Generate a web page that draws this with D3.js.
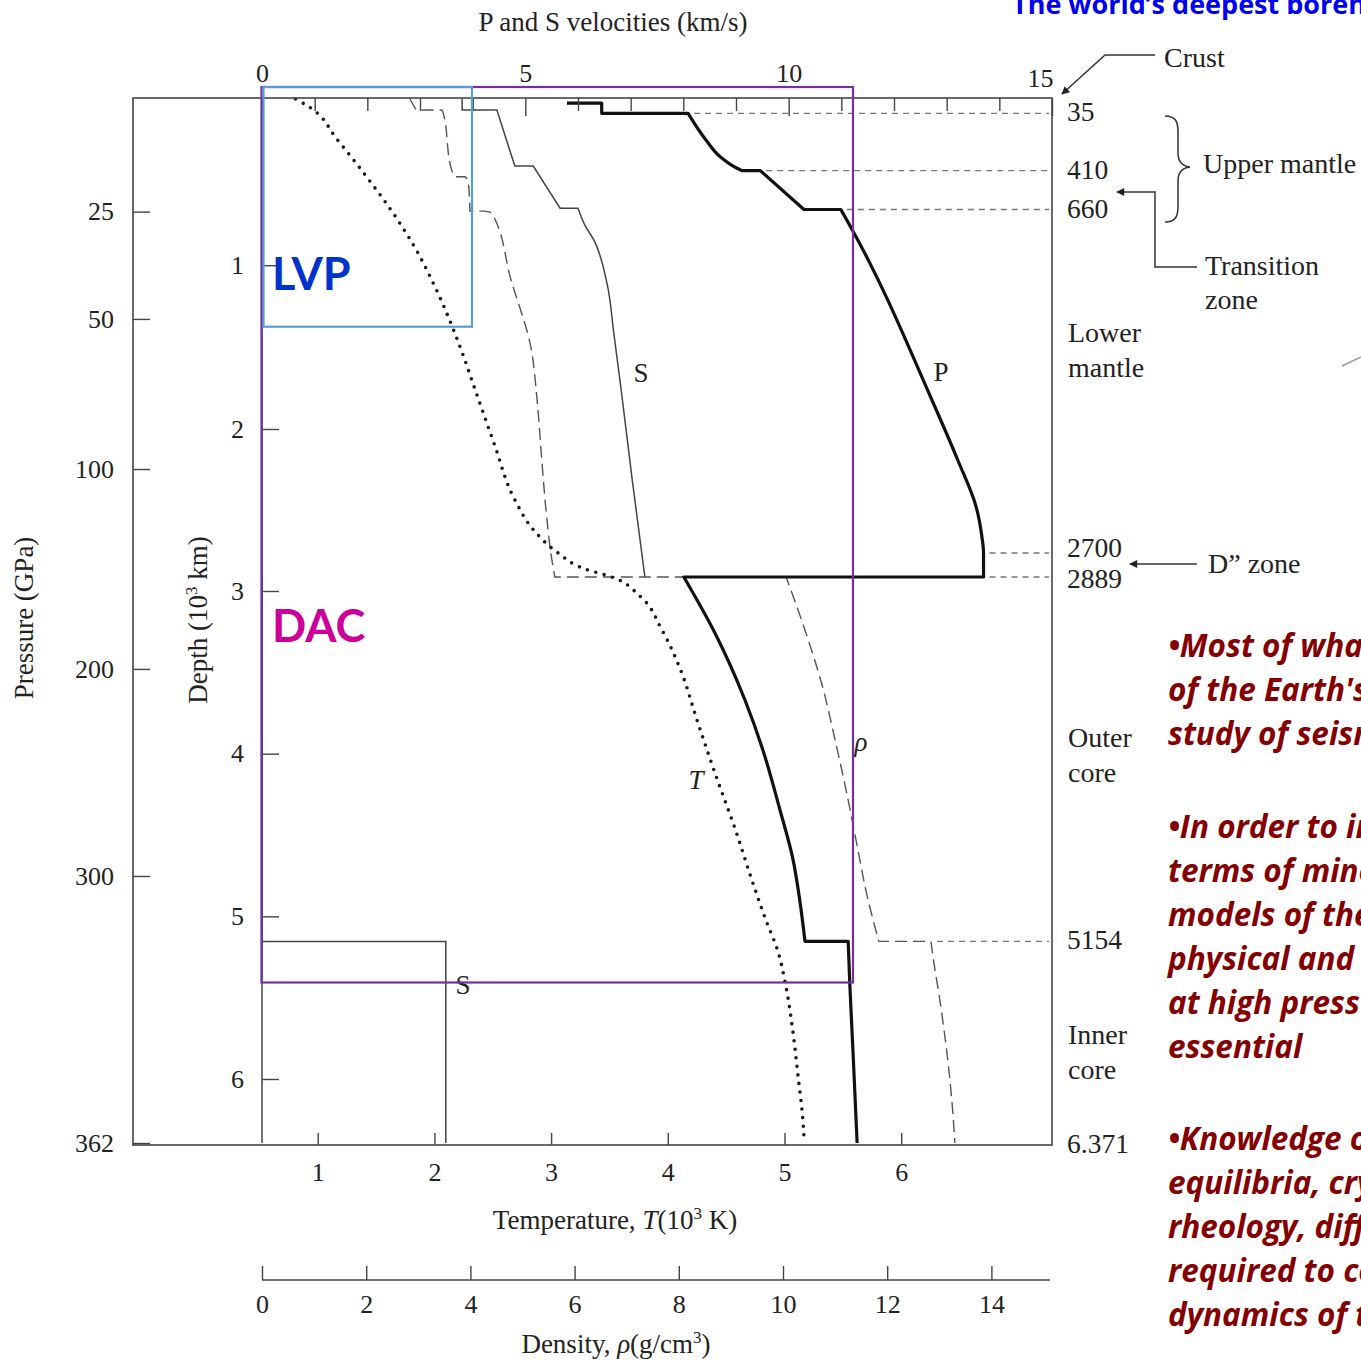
<!DOCTYPE html>
<html>
<head>
<meta charset="utf-8">
<script src="https://cdn.jsdelivr.net/npm/d3@7"></script>
<style>
  body { margin: 0; background: #fff; }
  svg { display: block; }
</style>
</head>
<body>
<svg id="chart" width="1361" height="1362"></svg>
<script>
// ---- data: [value, depth in km] ----

// P wave velocity, km/s
var pWave = [
  [5.79, 10], [6.45, 10], [6.45, 35], [8.09, 35], [8.43, 210], [8.70, 319], [9.01, 393],
  [9.11, 410], [9.46, 410], [10.29, 660], [10.99, 660], [11.24, 803], [12.72, 1823],
  [13.21, 2175], [13.56, 2440], [13.67, 2610], [13.70, 2700],
  [13.70, 2889], [8.01, 2889], [8.60, 3258], [9.17, 3670], [9.51, 3977], [9.83, 4340],
  [10.08, 4647], [10.21, 4899], [10.31, 5154], [11.13, 5154], [11.16, 5410], [11.22, 5822],
  [11.30, 6371]
];

// S wave velocity in the mantle, km/s
var sWave = [
  [3.80, 0], [3.80, 27], [4.46, 27], [4.80, 380], [5.15, 380], [5.66, 652], [6.00, 652],
  [6.13, 755], [6.30, 846], [6.55, 1109], [6.68, 1414], [6.82, 1762], [7.03, 2288], [7.27, 2889]
];

// S wave velocity in the core (none in the liquid outer core)
var sWaveCore = [[0, 2889], [0, 5154], [3.49, 5154], [3.49, 6371]];

// density, g/cm3
var density = [
  [2.84, 0], [2.96, 27], [3.45, 27], [3.47, 31], [3.64, 406], [3.70, 450], [3.90, 450],
  [3.96, 481], [3.99, 670], [4.28, 670], [4.41, 681], [4.78, 1090], [5.16, 1499],
  [5.28, 1823], [5.37, 2175], [5.47, 2514], [5.55, 2716], [5.62, 2889], [10.06, 2889],
  [10.44, 3258], [10.75, 3578], [11.00, 3916], [11.21, 4223], [11.42, 4561], [11.61, 4868],
  [11.84, 5154], [12.84, 5154], [12.88, 5250], [13.01, 5514], [13.14, 5822], [13.24, 6122],
  [13.30, 6371]
];

// temperature, 10^3 K
var temperature = [
  [0.81, 0], [0.93, 20], [1.17, 210], [1.42, 451], [1.61, 644], [1.83, 889], [1.99, 1109],
  [2.13, 1335], [2.23, 1518], [2.35, 1762], [2.51, 2079], [2.69, 2401], [2.85, 2570],
  [3.06, 2700], [3.29, 2826], [3.52, 2889], [3.76, 3031], [3.95, 3240], [4.11, 3486],
  [4.25, 3793], [4.41, 4131], [4.58, 4469], [4.72, 4776], [4.84, 5022], [4.94, 5207],
  [5.01, 5422], [5.07, 5698], [5.12, 6006], [5.15, 6180], [5.17, 6371]
];

// discontinuities, km
var boundaryDepth = [35, 410, 660, 2700, 2889, 5154, 6371];
var boundaryLabel = ['35', '410', '660', '2700', '2889', '5154', '6.371'];

// tick labels
var velocityTicks = [0, 1, 2, 3, 4, 5, 6, 7, 8, 9, 10, 11, 12, 13, 14, 15];
var velocityLabels = [0, 5, 10, 15];
var depthTicks = [1000, 2000, 3000, 4000, 5000, 6000];
var pressureTicks = [25, 50, 100, 200, 300, 362];
var pressureDepth = [673, 1328, 2226, 3479, 4752, 6371];
var temperatureTicks = [1, 2, 3, 4, 5, 6];
var densityTicks = [0, 2, 4, 6, 8, 10, 12, 14];

var notes = [
  ['\u2022Most of what we know about the interior', 'of the Earth\'s deep interior comes from the', 'study of seismic waves'],
  ['\u2022In order to interpret seismic data in', 'terms of mineralogy, composition and', 'models of the Earth, knowledge of the',
   'physical and chemical properties of minerals', 'at high pressures and temperatures is', 'essential'],
  ['\u2022Knowledge of phase transitions, phase', 'equilibria, crystal structures, elasticity,', 'rheology, diffusion and conductivity is',
   'required to constrain the structure and', 'dynamics of the Earth']
];

//------------------------------------------------

var svg = d3.select('#chart');
var serif = '"Liberation Serif", "DejaVu Serif", serif';
var ink = '#222';
var frame = {left: 133, top: 98, right: 1052, bottom: 1145};

// the figure is schematic: the crust and the D" layer are stretched
var y = d3.scaleLinear()
  .domain([0, 35, 410, 660, 2000, 2700, 2889, 3000, 6000, 6371])
  .range([99, 113.3, 170.6, 209.5, 429, 553, 577, 591, 1079, 1143]);
var xV = d3.scaleLinear().domain([0, 15]).range([262, 1052]);
var xT = d3.scaleLinear().domain([0, 6]).range([201, 901.2]);
var xRho = d3.scaleLinear().domain([0, 14]).range([262, 991.4]);
var yP = d3.scaleLinear().domain(pressureTicks).range(pressureDepth.map(y));

svg.append('rect').attr('width', 1361).attr('height', 1362).attr('fill', '#fff');

// smooth the runs of rising depth, keep the jumps at a discontinuity straight
function profilePath(points, xs) {
  var smooth = d3.line().x(function(d) { return xs(d[0]); }).y(function(d) { return y(d[1]); })
    .curve(d3.curveMonotoneY);
  var straight = d3.line().x(function(d) { return xs(d[0]); }).y(function(d) { return y(d[1]); });
  var pieces = [];
  var run = [points[0]];
  for (var i = 1; i < points.length; i++) {
    if (points[i][1] === points[i - 1][1]) {
      if (run.length > 1) pieces.push(smooth(run));
      pieces.push(straight([points[i - 1], points[i]]));
      run = [points[i]];
    } else {
      run.push(points[i]);
    }
  }
  if (run.length > 1) pieces.push(smooth(run));
  return pieces.map(function(p, i) { return i === 0 ? p : p.replace(/^M/, 'L'); }).join('');
}

// ---- dashed lines at the discontinuities ----
var scan = svg.append('g');
boundaryDepth.forEach(function(d, i) {
  var right = 0;
  pWave.forEach(function(p) { if (p[1] === d) right = Math.max(right, xV(p[0])); });
  density.forEach(function(p) { if (p[1] === d) right = Math.max(right, xRho(p[0])); });
  if (d < 6371) {
    scan.append('line')
      .attr('x1', right + 6).attr('x2', frame.right - 3)
      .attr('y1', y(d)).attr('y2', y(d))
      .attr('stroke', '#777').attr('stroke-width', 1.3).attr('stroke-dasharray', '6 5');
  }
  var nudge = {2700: -4, 2889: 3, 6371: 2}[d] || 0;
  scan.append('text').attr('x', 1067).attr('y', y(d) + 8 + nudge)
    .attr('font-family', serif).attr('font-size', 27.5).attr('fill', ink)
    .text(boundaryLabel[i]);
});

// ---- profiles ----
scan.append('path').attr('d', profilePath(density, xRho))
  .attr('fill', 'none').attr('stroke', '#555').attr('stroke-width', 1.4).attr('stroke-dasharray', '12 6');
scan.append('path').attr('d', profilePath(sWave, xV))
  .attr('fill', 'none').attr('stroke', '#444').attr('stroke-width', 1.5);
scan.append('path').attr('d', profilePath(sWaveCore, xV))
  .attr('fill', 'none').attr('stroke', '#444').attr('stroke-width', 1.5);
scan.append('path').attr('d', profilePath(pWave, xV))
  .attr('fill', 'none').attr('stroke', '#111').attr('stroke-width', 3.2).attr('stroke-linejoin', 'round');
scan.append('path').attr('d', profilePath(temperature, xT))
  .attr('fill', 'none').attr('stroke', '#1a1a1a').attr('stroke-width', 3.6)
  .attr('stroke-linecap', 'round').attr('stroke-dasharray', '0 8.6');

// ---- frame and axes ----
scan.append('rect')
  .attr('x', frame.left).attr('y', frame.top)
  .attr('width', frame.right - frame.left).attr('height', frame.bottom - frame.top)
  .attr('fill', 'none').attr('stroke', '#444').attr('stroke-width', 1.6);

function styleAxis(g, size) {
  g.attr('font-family', serif).attr('font-size', size);
  g.select('.domain').remove();
  g.selectAll('line').attr('stroke', '#444').attr('stroke-width', 1.4);
  g.selectAll('text').attr('fill', ink);
}

var gv = scan.append('g').attr('transform', 'translate(0,' + frame.top + ')')
  .call(d3.axisTop(xV).tickValues(velocityTicks).tickSizeInner(-13).tickSizeOuter(0).tickPadding(16)
    .tickFormat(function(d) { return velocityLabels.indexOf(d) >= 0 ? d : ''; }));
styleAxis(gv, 26);
gv.selectAll('.tick').filter(function(d) { return velocityLabels.indexOf(d) >= 0; })
  .select('line').attr('y2', 18);
gv.selectAll('.tick').filter(function(d) { return d === 15; })
  .select('text').attr('dx', -12).attr('dy', '0.2em');

var gd = scan.append('g').attr('transform', 'translate(' + xV(0) + ',0)')
  .call(d3.axisLeft(y).tickValues(depthTicks).tickSizeInner(-17).tickSizeOuter(0).tickPadding(18)
    .tickFormat(function(d) { return d / 1000; }));
styleAxis(gd, 26);
gd.append('line').attr('y1', y(0)).attr('y2', y(6371)).attr('stroke', '#444').attr('stroke-width', 1.5);

var gp = scan.append('g').attr('transform', 'translate(' + frame.left + ',0)')
  .call(d3.axisLeft(yP).tickValues(pressureTicks).tickSizeInner(-17).tickSizeOuter(0).tickPadding(19)
    .tickFormat(d3.format('d')));
styleAxis(gp, 26);

var gt = scan.append('g').attr('transform', 'translate(0,' + frame.bottom + ')')
  .call(d3.axisBottom(xT).tickValues(temperatureTicks).tickSizeInner(-12).tickSizeOuter(0).tickPadding(18)
    .tickFormat(d3.format('d')));
styleAxis(gt, 26);

var rhoAxisY = 1280;
var gr = scan.append('g').attr('transform', 'translate(0,' + rhoAxisY + ')')
  .call(d3.axisBottom(xRho).tickValues(densityTicks).tickSizeInner(-14).tickSizeOuter(0).tickPadding(15)
    .tickFormat(d3.format('d')));
styleAxis(gr, 26);
gr.append('line').attr('x1', xRho(0)).attr('x2', frame.right - 2)
  .attr('stroke', '#444').attr('stroke-width', 1.6);

// ---- axis titles ----
function title(x, yy, rotate) {
  var t = scan.append('text').attr('font-family', serif).attr('font-size', 27).attr('fill', ink)
    .attr('text-anchor', 'middle');
  if (rotate) t.attr('transform', 'translate(' + x + ',' + yy + ') rotate(-90)');
  else t.attr('x', x).attr('y', yy);
  return t;
}
title(613, 31).text('P and S velocities (km/s)');
title(33, 618, true).text('Pressure (GPa)');
var depthTitle = title(207, 620, true);
depthTitle.append('tspan').text('Depth (10');
depthTitle.append('tspan').attr('dy', -10).attr('font-size', 17).text('3');
depthTitle.append('tspan').attr('dy', 10).text(' km)');

var tTitle = title(615, 1229);
tTitle.append('tspan').text('Temperature, ');
tTitle.append('tspan').attr('font-style', 'italic').text('T');
tTitle.append('tspan').text('(10');
tTitle.append('tspan').attr('dy', -10).attr('font-size', 17).text('3');
tTitle.append('tspan').attr('dy', 10).text(' K)');

var rTitle = title(616, 1353);
rTitle.append('tspan').text('Density, ');
rTitle.append('tspan').attr('font-style', 'italic').text('\u03c1');
rTitle.append('tspan').text('(g/cm');
rTitle.append('tspan').attr('dy', -10).attr('font-size', 17).text('3');
rTitle.append('tspan').attr('dy', 10).text(')');

// ---- curve labels ----
function label(x, yy, txt, italic) {
  scan.append('text').attr('x', x).attr('y', yy).attr('text-anchor', 'middle')
    .attr('font-family', serif).attr('font-size', 27).attr('fill', ink)
    .attr('font-style', italic ? 'italic' : null).text(txt);
}
label(641, 382, 'S');
label(941, 381, 'P');
label(861, 751, '\u03c1', true);
label(696, 789, 'T', true);
label(463, 994, 'S');

// ---- layer names and pointers on the right ----
var defs = svg.append('defs');
defs.append('marker').attr('id', 'head').attr('viewBox', '0 0 10 10')
  .attr('refX', 9).attr('refY', 5).attr('markerUnits', 'userSpaceOnUse')
  .attr('markerWidth', 12).attr('markerHeight', 8).attr('orient', 'auto')
  .append('path').attr('d', 'M0,0L10,5L0,10z').attr('fill', ink);

function pointer(d) {
  scan.append('path').attr('d', d).attr('fill', 'none').attr('stroke', '#333')
    .attr('stroke-width', 1.5).attr('marker-end', 'url(#head)');
}
pointer('M1155,55L1105,55L1062,94');
pointer('M1197,267L1155,267L1155,192L1117,192');
pointer('M1197,564L1130,564');
scan.append('path')
  .attr('d', 'M1165,116C1176,116 1178,122 1178,132L1178,153C1178,161 1182,166 1190,167' +
    'C1182,168 1178,173 1178,181L1178,206C1178,216 1176,222 1165,222')
  .attr('fill', 'none').attr('stroke', '#333').attr('stroke-width', 1.5);
scan.append('path').attr('d', 'M1342,366L1361,357').attr('stroke', '#999').attr('stroke-width', 1.5);

var layerNames = [
  ['Crust', 1164, 67], ['Upper mantle', 1203, 173], ['Transition', 1205, 275], ['zone', 1205, 309],
  ['Lower', 1068, 342], ['mantle', 1068, 377], ['D\u201d zone', 1208, 573],
  ['Outer', 1068, 747], ['core', 1068, 782], ['Inner', 1068, 1044], ['core', 1068, 1079]
];
layerNames.forEach(function(n) {
  scan.append('text').attr('x', n[1]).attr('y', n[2])
    .attr('font-family', serif).attr('font-size', 28).attr('fill', ink).text(n[0]);
});

// ---- experiment ranges drawn over the figure ----
svg.append('rect').attr('x', 261.5).attr('y', 87).attr('width', 591.5).attr('height', 895.5)
  .attr('fill', 'none').attr('stroke', '#7030a0').attr('stroke-width', 2.2);
svg.append('rect').attr('x', 263.5).attr('y', 87).attr('width', 208.5).attr('height', 239.7)
  .attr('fill', 'none').attr('stroke', '#5b9bd5').attr('stroke-width', 2.2);
svg.append('text').attr('x', 272).attr('y', 290).attr('font-family', 'Lato, sans-serif')
  .attr('font-weight', 'bold').attr('font-size', 45).attr('fill', '#0033cc').text('LVP');
svg.append('text').attr('x', 272).attr('y', 642).attr('font-family', 'Lato, sans-serif')
  .attr('font-weight', 'bold').attr('font-size', 45).attr('fill', '#cc0099').text('DAC');

// ---- slide text ----
svg.append('text').attr('x', 1012).attr('y', 14).attr('font-family', '"Open Sans", sans-serif')
  .attr('font-weight', 'bold').attr('font-size', 27).attr('fill', '#0000f0')
  .text('The world\u2019s deepest borehole');

var paraTop = [657, 838, 1150];
var lineStep = 44;
notes.forEach(function(lines, p) {
  lines.forEach(function(line, i) {
    svg.append('text').attr('x', 1168).attr('y', paraTop[p] + i * lineStep)
      .attr('font-family', '"Open Sans", sans-serif').attr('font-weight', 'bold').attr('font-style', 'italic')
      .attr('font-size', 31.5).attr('fill', '#850000').text(line);
  });
});
</script>
</body>
</html>
